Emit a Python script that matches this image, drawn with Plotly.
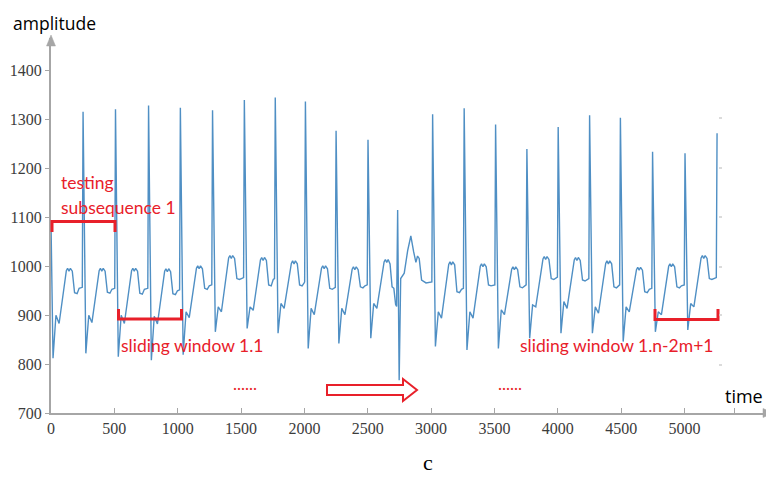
import plotly.graph_objects as go

# ---- data: ECG-like amplitude trace, vertices ----
time = [
    0, 16, 39, 64, 121, 131, 142, 153, 168, 186, 206, 222, 247,
    253, 275, 298, 323, 380, 390, 401, 412, 427, 445, 465, 481, 503,
    509, 531, 554, 579, 636, 646, 657, 668, 683, 701, 721, 737, 764,
    770, 792, 815, 840, 897, 907, 918, 929, 944, 962, 982, 998, 1015,
    1021, 1043, 1066, 1091, 1148, 1158, 1169, 1180, 1195, 1213, 1233, 1249, 1269,
    1275, 1297, 1320, 1345, 1402, 1412, 1423, 1434, 1449, 1467, 1487, 1503, 1520,
    1526, 1548, 1571, 1596, 1653, 1663, 1674, 1685, 1700, 1718, 1738, 1754, 1764,
    1770, 1792, 1815, 1840, 1897, 1907, 1918, 1929, 1944, 1962, 1982, 1998, 2002,
    2008, 2030, 2053, 2078, 2135, 2145, 2156, 2167, 2182, 2200, 2220, 2236, 2244,
    2250, 2272, 2295, 2320, 2377, 2387, 2398, 2409, 2424, 2442, 2462, 2478, 2496,
    2502, 2524, 2547, 2572, 2629, 2639, 2650, 2661, 2676, 2692, 2706, 2720, 2728,
    2736, 2748, 2760, 2788, 2815, 2840, 2862, 2880, 2893, 2906, 2925, 2960, 3006,
    3012, 3034, 3057, 3082, 3139, 3149, 3160, 3171, 3186, 3204, 3224, 3240, 3255,
    3261, 3283, 3306, 3331, 3388, 3398, 3409, 3420, 3435, 3453, 3473, 3489, 3503,
    3509, 3531, 3554, 3579, 3636, 3646, 3657, 3668, 3683, 3701, 3721, 3737, 3750,
    3756, 3778, 3801, 3826, 3883, 3893, 3904, 3915, 3930, 3948, 3968, 3984, 3997,
    4003, 4025, 4048, 4073, 4130, 4140, 4151, 4162, 4177, 4195, 4215, 4231, 4245,
    4251, 4273, 4296, 4321, 4378, 4388, 4399, 4410, 4425, 4443, 4463, 4479, 4488,
    4494, 4516, 4539, 4564, 4621, 4631, 4642, 4653, 4668, 4686, 4706, 4722, 4742,
    4748, 4770, 4793, 4818, 4875, 4885, 4896, 4907, 4922, 4940, 4960, 4976, 4998,
    5004, 5026, 5049, 5074, 5131, 5141, 5152, 5163, 5178, 5196, 5216, 5232, 5251,
    5257,
]
amplitude = [
    1090, 812, 900, 883, 991, 996, 990, 996, 990, 946, 944, 955, 957,
    1316, 822, 900, 885, 991, 996, 990, 996, 990, 947, 945, 953, 955,
    1321, 815, 900, 883, 991, 996, 990, 996, 990, 945, 943, 953, 955,
    1329, 808, 898, 882, 990, 995, 989, 995, 989, 944, 942, 950, 952,
    1324, 819, 907, 895, 996, 1001, 995, 1001, 995, 955, 953, 960, 962,
    1319, 866, 917, 907, 1017, 1022, 1016, 1022, 1016, 975, 973, 975, 977,
    1340, 873, 917, 910, 1013, 1018, 1012, 1018, 1012, 962, 960, 973, 975,
    1345, 863, 924, 914, 1006, 1011, 1005, 1011, 1005, 962, 960, 966, 968,
    1337, 832, 914, 901, 996, 1001, 995, 1001, 995, 955, 953, 955, 957,
    1277, 842, 914, 901, 994, 999, 993, 999, 993, 958, 956, 960, 962,
    1259, 853, 924, 914, 1009, 1014, 1008, 1014, 1005, 958, 955, 922, 918,
    1115, 767, 975, 986, 1032, 1062, 1030, 1008, 1021, 1016, 972, 966, 968,
    1311, 836, 907, 894, 1004, 1009, 1003, 1009, 1003, 948, 946, 953, 955,
    1323, 829, 907, 894, 1000, 1005, 999, 1005, 999, 962, 960, 961, 962,
    1290, 832, 911, 901, 994, 999, 993, 999, 993, 958, 956, 960, 962,
    1240, 853, 921, 917, 1015, 1020, 1014, 1020, 1014, 975, 973, 976, 978,
    1285, 863, 928, 914, 1013, 1018, 1012, 1018, 1012, 972, 970, 973, 975,
    1309, 863, 917, 904, 1006, 1011, 1005, 1011, 1005, 958, 956, 960, 962,
    1304, 846, 917, 907, 993, 998, 992, 998, 992, 948, 946, 953, 955,
    1234, 866, 907, 901, 1000, 1005, 999, 1005, 999, 958, 956, 960, 962,
    1231, 870, 924, 917, 1017, 1022, 1016, 1022, 1016, 975, 973, 975, 977,
    1272,
]
x_tick_vals = [0, 500, 1000, 1500, 2000, 2500, 3000, 3500, 4000, 4500, 5000, 5395]
x_tick_text = ["0", "500", "1000", "1500", "2000", "2500", "3000", "3500",
               "4000", "4500", "5000", ""]
y_tick_vals = [700, 800, 900, 1000, 1100, 1200, 1300, 1400]

# ---- layout geometry (page pixels; the page body adds an 8px offset) ----
OFF = 8
W, H = 774, 477
L, R, T, B = 51, 766, 38, 413
X_MAX = (R - L) / 0.1267
Y_MAX = 700 + (B - T) / 0.489


def px(x):
    return (x - L) / (R - L)


def py(y):
    return (B - y) / (B - T)


def path(points, close=False):
    s = "M " + " L ".join(f"{px(a):.5f},{py(b):.5f}" for a, b in points)
    return s + (" Z" if close else "")


RED = "#e8202a"
GRAY = "#a6a6a6"

fig = go.Figure()
fig.add_trace(go.Scatter(x=time, y=amplitude, mode="lines",
                         line=dict(color="#4f8fc4", width=1.4),
                         hoverinfo="skip", showlegend=False))

shapes = []
# axis arrowheads
shapes.append(dict(type="path", xref="paper", yref="paper",
                   path=path([(774, 413), (763, 408.5), (763, 417.5)], True),
                   fillcolor=GRAY, line=dict(color=GRAY, width=0.5)))
shapes.append(dict(type="path", xref="paper", yref="paper",
                   path=path([(51, 35), (46.5, 46), (55.5, 46)], True),
                   fillcolor=GRAY, line=dict(color=GRAY, width=0.5)))
# red brackets
for pts in ([(52, 232), (52, 221.5), (115, 221.5), (115, 232)],
            [(118.5, 309), (118.5, 319), (181.5, 319), (181.5, 309)],
            [(655, 309), (655, 319.5), (718, 319.5), (718, 309)]):
    shapes.append(dict(type="path", xref="paper", yref="paper", path=path(pts),
                       line=dict(color=RED, width=3)))
# hollow arrow
shapes.append(dict(type="path", xref="paper", yref="paper",
                   path=path([(327, 385), (403, 385), (403, 379), (417, 390),
                              (403, 401), (403, 395), (327, 395)], True),
                   fillcolor="white", line=dict(color=RED, width=2)))
# faint right-side tick marks
for yy in (118, 168, 217, 267, 315, 365):
    shapes.append(dict(type="line", xref="paper", yref="paper",
                       x0=px(719), x1=px(722), y0=py(yy), y1=py(yy),
                       line=dict(color="#cfcfcf", width=1.5)))

annotations = []


def text(t, x, y, size, color, family, xanchor="left", yanchor="middle"):
    annotations.append(dict(text=t, xref="paper", yref="paper", x=px(x), y=py(y),
                            xanchor=xanchor, yanchor=yanchor, showarrow=False,
                            font=dict(size=size, color=color, family=family)))


text("amplitude", 11, 8.5, 17.5, "black", "Open Sans", yanchor="top")
text("time", 723, 396, 18, "black", "Open Sans")
text("c", 428, 462, 22, "black", "Liberation Serif", "center")
text("testing", 59, 182, 17.5, RED, "Lato")
text("subsequence 1", 59, 207, 17.5, RED, "Lato")
text("sliding window 1.1", 119, 345, 17.5, RED, "Lato")
text("sliding window 1.n-2m+1", 518, 345, 17.5, RED, "Lato")
text("......", 231, 383, 17, RED, "Lato")
text("......", 496, 383, 17, RED, "Lato")

fig.update_layout(
    width=W - OFF, height=H - OFF,
    margin=dict(l=L - OFF, r=W - R, t=T - OFF, b=H - B, pad=0, autoexpand=False),
    paper_bgcolor="white", plot_bgcolor="white",
    shapes=shapes, annotations=annotations,
    xaxis=dict(range=[0, X_MAX], showgrid=False, zeroline=False, automargin=False,
               showline=True, linecolor=GRAY, linewidth=2,
               tickmode="array", tickvals=x_tick_vals, ticktext=x_tick_text,
               ticks="inside", ticklen=5, tickcolor=GRAY, tickwidth=1,
               tickfont=dict(family="Liberation Serif", size=16, color="#3c3c3c")),
    yaxis=dict(range=[700, Y_MAX], showgrid=False, zeroline=False, automargin=False,
               showline=True, linecolor=GRAY, linewidth=2,
               tickmode="array", tickvals=y_tick_vals,
               ticks="outside", ticklen=4, tickcolor=GRAY, tickwidth=1,
               tickfont=dict(family="Liberation Serif", size=16, color="#3c3c3c")),
)

fig.write_html("out.html")
